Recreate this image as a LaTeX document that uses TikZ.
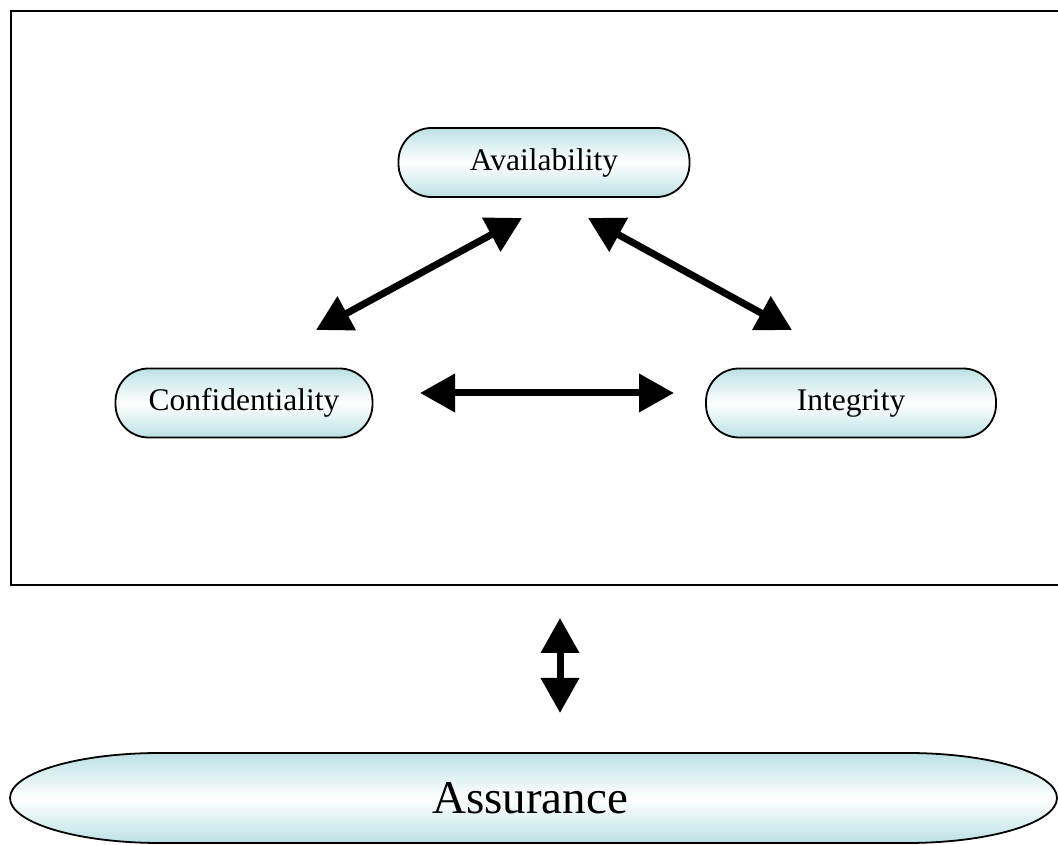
\documentclass[tikz,border=0pt]{standalone}
\usepackage{fontspec}
\setmainfont{Liberation Serif}
\usetikzlibrary{arrows.meta}
\definecolor{pale}{HTML}{BCE1E5}
\tikzset{
  pill/.style={draw=black, line width=1.8pt, rounded corners=33pt,
    top color=pale, bottom color=pale, middle color=white,
    minimum height=69pt, inner sep=0pt,
    font=\fontsize{31.5}{36}\selectfont},
  link/.style={line width=7pt, {Triangle[length=35pt,width=37pt]}-{Triangle[length=35pt,width=37pt]}},
  frame/.style={draw=black, line width=2.4pt}
}
\begin{document}
\begin{tikzpicture}[x=1pt,y=1pt]
  \useasboundingbox (0,0) rectangle (1058,845);
  % outer frame around the three properties
  \draw[frame] (11,260) rectangle (1064,834);

  % the three properties
  \node[pill, minimum width=291pt] (avail) at (544,682.5) {Availability};
  \node[pill, minimum width=257pt] (conf) at (244,442) {Confidentiality};
  \node[pill, minimum width=290pt] (integ) at (851,442) {Integrity};

  % arrow end points
  \coordinate (cl) at (316,515);
  \coordinate (al) at (522,627);
  \coordinate (ar) at (588,627);
  \coordinate (ir) at (792,515);
  \coordinate (ch) at (420,452);
  \coordinate (ih) at (674,452);
  \coordinate (ft) at (560,227);
  \coordinate (ab) at (560,132);

  \draw[link] (cl) -- (al);
  \draw[link] (ar) -- (ir);
  \draw[link] (ch) -- (ih);
  \draw[link] (ft) -- (ab);

  % assurance band with elliptical ends
  \path[draw=black, line width=1.8pt, top color=pale, bottom color=pale, middle color=white]
    (160,92) -- (907,92) arc[start angle=90, end angle=0, x radius=150, y radius=45]
    arc[start angle=0, end angle=-90, x radius=150, y radius=45]
    -- (160,2) arc[start angle=270, end angle=180, x radius=150, y radius=45]
    arc[start angle=180, end angle=90, x radius=150, y radius=45] -- cycle;
  \node[font=\fontsize{47}{54}\selectfont] (assur) at (530,47) {Assurance};
\end{tikzpicture}
\end{document}
